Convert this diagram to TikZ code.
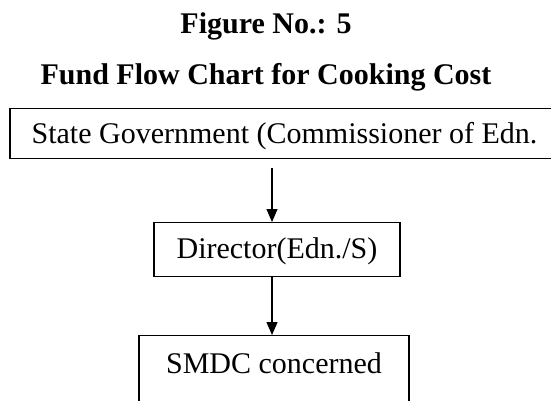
\documentclass[tikz,border=0pt]{standalone}
\usepackage{fontspec}
\setmainfont{Liberation Serif}
\usepackage{tikz}
\usetikzlibrary{arrows.meta,positioning,calc}

\begin{document}
\begin{tikzpicture}[x=1pt,y=-1pt,
    heading/.style={font=\fontsize{30}{36}\selectfont\bfseries, anchor=base, inner sep=0pt},
    fundbox/.style={draw, line width=1.3pt, inner sep=0pt, anchor=north,
        font=\fontsize{30}{36}\selectfont},
    flow/.style={line width=1.2pt, -{Triangle[length=13pt,width=11pt]}}]
        \clip (0,0) rectangle (551,400);
        \useasboundingbox (0,0) rectangle (551,400);

        % Headings
        \node[heading] (fig) at (266,33) {Figure No.: 5};
        \node[heading] (title) at (266,84) {Fund Flow Chart for Cooking Cost};

        % Boxes
        \node[fundbox, minimum width=549pt, text height=35pt, text depth=15pt] (state) at (284.5,108)
            {State Government (Commissioner of Edn.};
        \node[fundbox, minimum width=246pt, text height=36pt, text depth=18pt] (director) at (277,222)
            {Director(Edn./S)};
        \node[fundbox, minimum width=270pt, text height=38pt, text depth=60pt] (smdc) at (274,335)
            {SMDC concerned};

        % Arrows
        \draw[flow, shorten <=9pt] ([xshift=-5pt]state.south -| director.north) -- ([xshift=-5pt]director.north);
        \draw[flow] ([xshift=-5pt]director.south) -- ([xshift=-5pt]smdc.north -| director.south);
    \end{tikzpicture}
\end{document}
